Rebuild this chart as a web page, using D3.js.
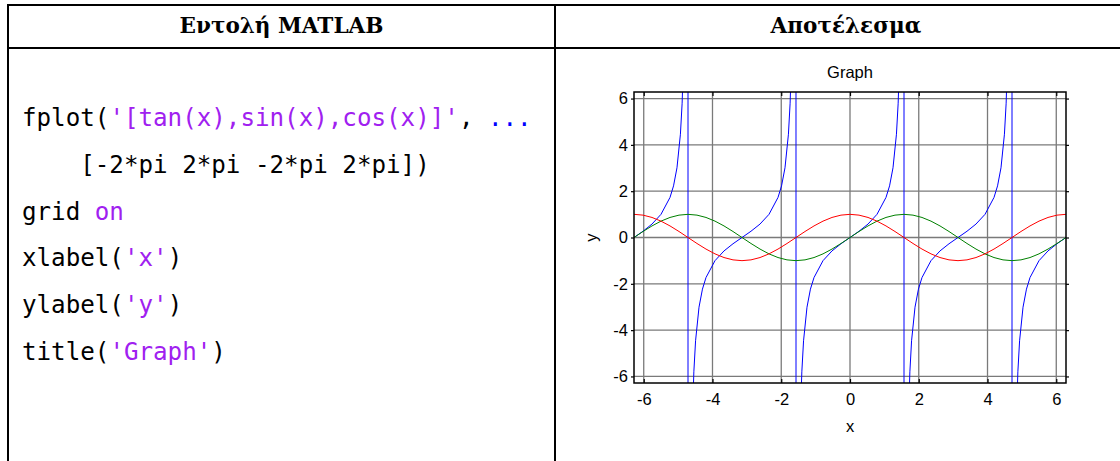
<!DOCTYPE html>
<html>
<head>
<meta charset="utf-8">
<script src="https://cdn.jsdelivr.net/npm/d3@7"></script>
<style>
  html, body { margin: 0; padding: 0; background: #fff; }
</style>
</head>
<body>
<svg id="chart" width="1120" height="461"></svg>
<script>
// table texts
const headers = ['Εντολή MATLAB', 'Αποτέλεσμα']
// code lines, split into coloured tokens [text, kind]
const codeLines = [
  [['fplot(', 'k'], ["'[tan(x),sin(x),cos(x)]'", 's'], [', ', 'k'], ['...', 'c']],
  [['    [-2*pi 2*pi -2*pi 2*pi])', 'k']],
  [['grid ', 'k'], ['on', 's']],
  [['xlabel(', 'k'], ["'x'", 's'], [')', 'k']],
  [['ylabel(', 'k'], ["'y'", 's'], [')', 'k']],
  [['title(', 'k'], ["'Graph'", 's'], [')', 'k']],
]

// chart data
const xDomain = [-6.2832, 6.2832]
const yDomain = [-6.2832, 6.2832]
const tickValues = [-6, -4, -2, 0, 2, 4, 6]

const waveX = [
  -6.283, -6.021, -5.760, -5.498, -5.236, -4.974, -4.712, -4.451, -4.189,
  -3.927, -3.665, -3.403, -3.142, -2.880, -2.618, -2.356, -2.094, -1.833,
  -1.571, -1.309, -1.047, -0.785, -0.524, -0.262, 0, 0.262, 0.524, 0.785,
  1.047, 1.309, 1.571, 1.833, 2.094, 2.356, 2.618, 2.880, 3.142, 3.403,
  3.665, 3.927, 4.189, 4.451, 4.712, 4.974, 5.236, 5.498, 5.760, 6.021, 6.283,
]
const sinY = [
  0, 0.259, 0.5, 0.707, 0.866, 0.966, 1, 0.966, 0.866, 0.707, 0.5, 0.259, 0,
  -0.259, -0.5, -0.707, -0.866, -0.966, -1, -0.966, -0.866, -0.707, -0.5,
  -0.259, 0, 0.259, 0.5, 0.707, 0.866, 0.966, 1, 0.966, 0.866, 0.707, 0.5,
  0.259, 0, -0.259, -0.5, -0.707, -0.866, -0.966, -1, -0.966, -0.866, -0.707,
  -0.5, -0.259, 0,
]
const cosY = [
  1, 0.966, 0.866, 0.707, 0.5, 0.259, 0, -0.259, -0.5, -0.707, -0.866, -0.966,
  -1, -0.966, -0.866, -0.707, -0.5, -0.259, 0, 0.259, 0.5, 0.707, 0.866, 0.966,
  1, 0.966, 0.866, 0.707, 0.5, 0.259, 0, -0.259, -0.5, -0.707, -0.866, -0.966,
  -1, -0.966, -0.866, -0.707, -0.5, -0.259, 0, 0.259, 0.5, 0.707, 0.866, 0.966,
  1,
]
// tan is sampled densely near the asymptotes, the jump is drawn as in fplot
const tanX = [
  -6.283, -6.021, -5.760, -5.498, -5.236, -5.133, -5.033, -4.933, -4.883, -4.833, -4.783, -4.723, -4.7125,
  -4.7123, -4.702, -4.642, -4.592, -4.542, -4.492, -4.392, -4.292, -4.189, -3.927, -3.665, -3.403,
  -3.142, -2.880, -2.618, -2.356, -2.094, -1.991, -1.891, -1.791, -1.742, -1.692, -1.642, -1.581, -1.5709,
  -1.5707, -1.561, -1.501, -1.451, -1.401, -1.351, -1.251, -1.151, -1.047, -0.785, -0.524, -0.262,
  0, 0.262, 0.524, 0.785, 1.047, 1.151, 1.251, 1.351, 1.401, 1.451, 1.501, 1.561, 1.5707,
  1.5709, 1.581, 1.642, 1.692, 1.742, 1.791, 1.891, 1.991, 2.094, 2.356, 2.618, 2.880,
  3.142, 3.403, 3.665, 3.927, 4.189, 4.292, 4.392, 4.492, 4.542, 4.592, 4.642, 4.702, 4.7123,
  4.7125, 4.723, 4.783, 4.833, 4.883, 4.933, 5.033, 5.133, 5.236, 5.498, 5.760, 6.021, 6.283,
]
const tanY = [
  0, 0.27, 0.58, 1, 1.73, 2.23, 3.01, 4.46, 5.8, 8.24, 14.1, 92.6, 10000,
  -10000, -100, -14.1, -8.24, -5.8, -4.46, -3.01, -2.23, -1.73, -1, -0.58, -0.27,
  0, 0.27, 0.58, 1, 1.73, 2.23, 3.01, 4.46, 5.8, 8.24, 14.1, 100, 10000,
  -10000, -100, -14.1, -8.24, -5.8, -4.46, -3.01, -2.23, -1.73, -1, -0.58, -0.27,
  0, 0.27, 0.58, 1, 1.73, 2.23, 3.01, 4.46, 5.8, 8.24, 14.1, 100, 10000,
  -10000, -100, -14.1, -8.24, -5.8, -4.46, -3.01, -2.23, -1.73, -1, -0.58, -0.27,
  0, 0.27, 0.58, 1, 1.73, 2.23, 3.01, 4.46, 5.8, 8.24, 14.1, 100, 10000,
  -10000, -92.6, -14.1, -8.24, -5.8, -4.46, -3.01, -2.23, -1.73, -1, -0.58, -0.27, 0,
]

const series = [
  { name: 'tan', xs: tanX, ys: tanY, color: '#0000ff' },
  { name: 'sin', xs: waveX, ys: sinY, color: '#008000' },
  { name: 'cos', xs: waveX, ys: cosY, color: '#ff0000' },
]

const svg = d3.select('#chart')

// ---------- table ----------
const table = { left: 8, top: 5, mid: 555, right: 1137, headBottom: 48 }

const tableLayer = svg.append('g').attr('id', 'table')
tableLayer
  .append('path')
  .attr(
    'd',
    `M${table.right},${table.top}H${table.left}V470` +
      `M${table.left},${table.headBottom}H${table.right}` +
      `M${table.mid},${table.top}V470`
  )
  .attr('fill', 'none')
  .attr('stroke', '#000')
  .attr('stroke-width', 2)

const headX = [(table.left + table.mid) / 2, (table.mid + table.right) / 2]
const headTexts = tableLayer
  .selectAll('text.head')
  .data(headers)
  .join('text')
  .attr('class', 'head')
  .attr('x', (d, i) => headX[i])
  .attr('y', 33)
  .attr('text-anchor', 'middle')
  .attr('font-family', 'DejaVu Serif')
  .attr('font-weight', 'bold')
  .attr('font-size', 20)
  .attr('fill', '#000')
  .text((d) => d)

// fit header size to the width of the first header (about 206px)
const headLen = headTexts.node().getComputedTextLength()
headTexts.attr('font-size', Math.min(26, (20 * 204) / headLen))

// ---------- code ----------
const kindColor = { k: '#000000', s: '#a020f0', c: '#0000ff' }
const code = svg
  .append('g')
  .attr('id', 'code')
  .attr('font-family', 'DejaVu Sans Mono')
  .attr('font-size', 24.2)

codeLines.forEach((tokens, i) => {
  const t = code
    .append('text')
    .attr('x', 22)
    .attr('y', 126 + i * 46.8)
    .attr('xml:space', 'preserve')
    .style('white-space', 'pre')
  tokens.forEach(([txt, kind]) => {
    t.append('tspan').attr('fill', kindColor[kind]).text(txt)
  })
})

// ---------- plot ----------
const plot = { left: 634, right: 1066, top: 92, bottom: 383 }

const xScale = d3.scaleLinear().domain(xDomain).range([plot.left, plot.right])
const yScale = d3.scaleLinear().domain(yDomain).range([plot.bottom, plot.top])

const chart = svg.append('g').attr('id', 'plot')

svg
  .append('clipPath')
  .attr('id', 'plotClip')
  .append('rect')
  .attr('x', plot.left)
  .attr('y', plot.top)
  .attr('width', plot.right - plot.left)
  .attr('height', plot.bottom - plot.top)

// grid
const grid = chart.append('g').attr('id', 'grid')
grid
  .selectAll('line.gx')
  .data(tickValues)
  .join('line')
  .attr('class', 'gx')
  .attr('x1', (d) => xScale(d))
  .attr('x2', (d) => xScale(d))
  .attr('y1', plot.top)
  .attr('y2', plot.bottom)

grid
  .selectAll('line.gy')
  .data(tickValues)
  .join('line')
  .attr('class', 'gy')
  .attr('x1', plot.left)
  .attr('x2', plot.right)
  .attr('y1', (d) => yScale(d))
  .attr('y2', (d) => yScale(d))

grid.selectAll('line').attr('stroke', '#7a7a7a').attr('stroke-width', 1.3)

// lines
const line = d3
  .line()
  .x((d) => xScale(d[0]))
  .y((d) => yScale(d[1]))
  .curve(d3.curveLinear)

chart
  .append('g')
  .attr('clip-path', 'url(#plotClip)')
  .selectAll('path')
  .data(series)
  .join('path')
  .attr('d', (d) => line(d3.zip(d.xs, d.ys)))
  .attr('fill', 'none')
  .attr('stroke', (d) => d.color)
  .attr('stroke-width', 1)

// axes: left and bottom with labels, top and right plain
chart
  .append('g')
  .attr('transform', `translate(0,${plot.bottom})`)
  .call(d3.axisBottom(xScale).tickValues(tickValues).tickSize(-4).tickPadding(10).tickSizeOuter(0))
  .call((g) => g.select('.domain').remove())

chart
  .append('g')
  .attr('transform', `translate(${plot.left},0)`)
  .call(d3.axisLeft(yScale).tickValues(tickValues).tickSize(3).tickPadding(3).tickSizeOuter(0))
  .call((g) => g.select('.domain').remove())

chart
  .append('g')
  .attr('transform', `translate(0,${plot.top})`)
  .call(d3.axisTop(xScale).tickValues(tickValues).tickSize(-4).tickFormat('').tickSizeOuter(0))
  .call((g) => g.select('.domain').remove())

chart
  .append('g')
  .attr('transform', `translate(${plot.right},0)`)
  .call(d3.axisRight(yScale).tickValues(tickValues).tickSize(3).tickFormat('').tickSizeOuter(0))
  .call((g) => g.select('.domain').remove())

chart
  .selectAll('.tick text')
  .attr('font-family', 'Liberation Sans, Arial, sans-serif')
  .attr('font-size', 16.5)
  .attr('fill', '#000')
  .text(function () {
    return d3.select(this).text().replace('−', '-')
  })

chart.selectAll('.tick line').attr('stroke', '#000').attr('stroke-width', 1.2)

// box
chart
  .append('rect')
  .attr('x', plot.left)
  .attr('y', plot.top)
  .attr('width', plot.right - plot.left)
  .attr('height', plot.bottom - plot.top)
  .attr('fill', 'none')
  .attr('stroke', '#000')
  .attr('stroke-width', 1.5)

// titles
const labelFont = 'Liberation Sans, Arial, sans-serif'
chart
  .append('text')
  .attr('x', (plot.left + plot.right) / 2)
  .attr('y', 78)
  .attr('text-anchor', 'middle')
  .attr('font-family', labelFont)
  .attr('font-size', 16.5)
  .text('Graph')

chart
  .append('text')
  .attr('x', (plot.left + plot.right) / 2)
  .attr('y', 432)
  .attr('text-anchor', 'middle')
  .attr('font-family', labelFont)
  .attr('font-size', 16.5)
  .text('x')

chart
  .append('text')
  .attr('transform', `translate(597,${(plot.top + plot.bottom) / 2}) rotate(-90)`)
  .attr('text-anchor', 'middle')
  .attr('font-family', labelFont)
  .attr('font-size', 16.5)
  .text('y')
</script>
</body>
</html>
